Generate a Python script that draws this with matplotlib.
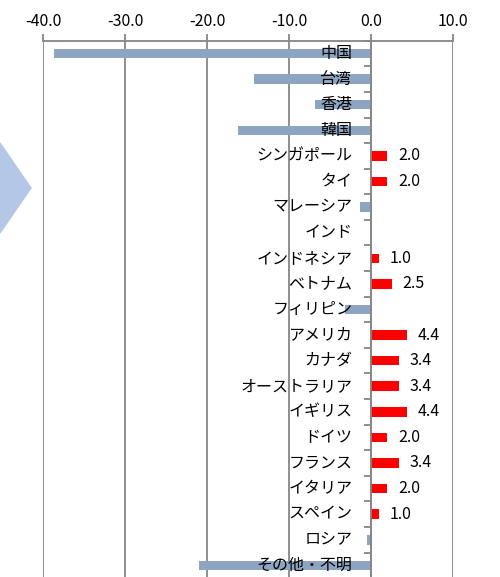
import numpy as np
import matplotlib.pyplot as plt
from matplotlib.patches import Polygon

plt.rcParams['font.family'] = ['Noto Sans CJK JP', 'DejaVu Sans']

countries = ["中国", "台湾", "香港", "韓国", "シンガポール", "タイ", "マレーシア", "インド",
             "インドネシア", "ベトナム", "フィリピン", "アメリカ", "カナダ", "オーストラリア",
             "イギリス", "ドイツ", "フランス", "イタリア", "スペイン", "ロシア", "その他・不明"]
values = [-38.7, -14.3, -6.8, -16.2, 2.0, 2.0, -1.3, 0.0,
          1.0, 2.5, -3.2, 4.4, 3.4, 3.4,
          4.4, 2.0, 3.4, 2.0, 1.0, -0.5, -21.0]
xticks = [-40, -30, -20, -10, 0, 10]

fig = plt.figure(figsize=(5, 5.77), dpi=100)

# decorative chevron at the left edge
fig.patches.append(Polygon([(0, 1 - 143/577), (31/500, 1 - 188/577), (0, 1 - 233/577)],
                           closed=True, transform=fig.transFigure, color="#B4C7E7", zorder=0))

ax = fig.add_axes([0.086, -0.002, 0.82, 0.9314])

y = np.arange(len(countries))
colors = ["#FF0000" if v > 0 else "#8EA5C1" for v in values]
ax.barh(y, values, height=0.37, color=colors, zorder=2)

for yi, (name, v) in enumerate(zip(countries, values)):
    ax.annotate(name, (0, yi), xytext=(-13.5, 0), textcoords="offset points",
                ha="right", va="center", fontsize=11.5, zorder=4)
    if v > 0:
        ax.annotate(f"{v:.1f}", (v, yi), xytext=(7.5, 0), textcoords="offset points",
                    ha="left", va="center", fontsize=11.5, zorder=4)

ax.set_xlim(-40, 10)
ax.set_ylim(len(countries) - 0.5, -0.5)
ax.set_xticks(xticks)
ax.set_xticklabels([f"{t:.1f}" for t in xticks])
ax.xaxis.tick_top()
ax.tick_params(axis="x", direction="out", length=5, color="#868686", width=1.3,
               labelsize=11.5, pad=3)
ax.grid(axis="x", color="#868686", linewidth=1.3, zorder=1)

ax.spines["left"].set_position(("data", 0))
ax.spines["left"].set_color("#868686")
ax.spines["left"].set_linewidth(1.3)
ax.spines["left"].set_zorder(3)
ax.spines["right"].set_visible(False)
ax.spines["bottom"].set_visible(False)
ax.spines["top"].set_color("#868686")
ax.spines["top"].set_linewidth(1.3)
ax.set_yticks(np.arange(len(countries) + 1) - 0.5)
ax.set_yticklabels([])
ax.tick_params(axis="y", direction="out", length=5, color="#868686", width=1.3)

plt.savefig("out.png", dpi=100)
